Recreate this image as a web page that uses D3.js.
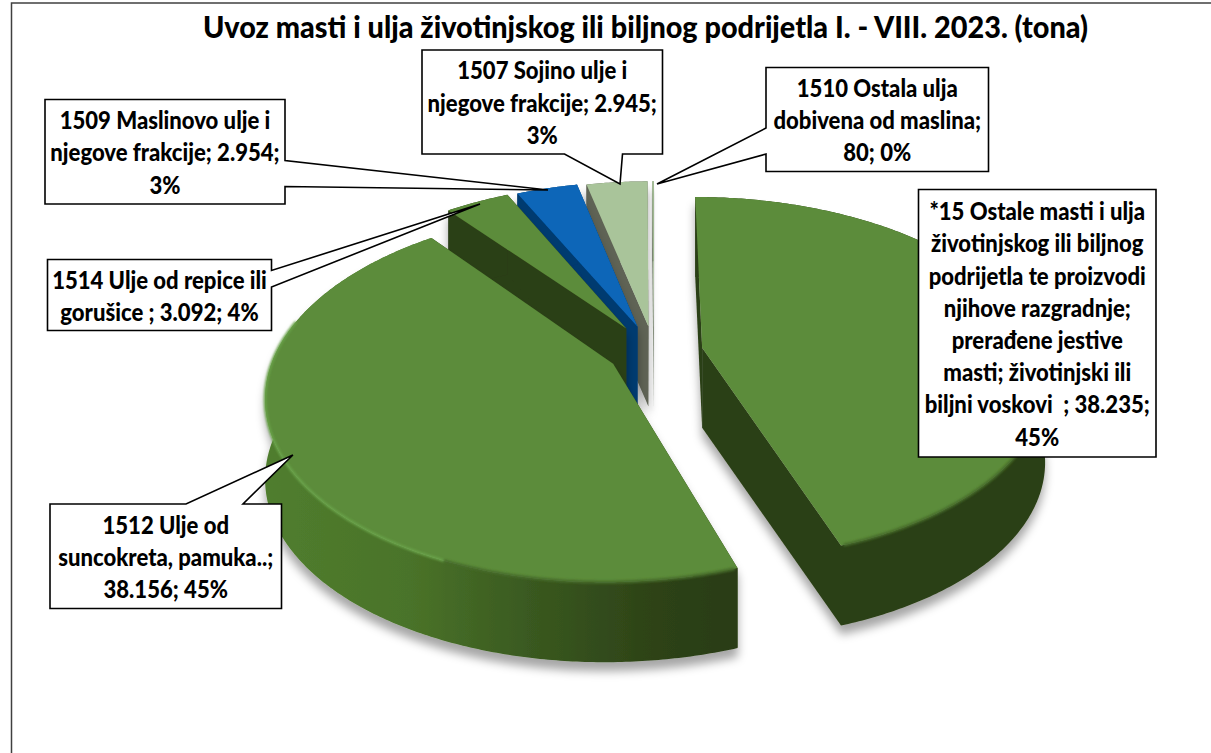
<!DOCTYPE html>
<html>
<head>
<meta charset="utf-8">
<script src="https://cdn.jsdelivr.net/npm/d3@7"></script>
<style>
html, body { margin: 0; padding: 0; background: #fff; }
svg { display: block; }
text { font-family: Lato, sans-serif; font-weight: 900; fill: #000; }
</style>
</head>
<body>
<div id="chart"></div>
<script>
const title = 'Uvoz masti i ulja životinjskog ili biljnog podrijetla I. - VIII. 2023. (tona)';
const categories = ['*15 Ostale masti', '1512 Ulje od suncokreta', '1514 Ulje od repice', '1509 Maslinovo ulje', '1507 Sojino ulje', '1510 Ostala ulja'];
const tons = [38235, 38156, 3092, 2954, 2945, 80];
const labelLines = [
    ['*15 Ostale masti i ulja', 'životinjskog ili biljnog', 'podrijetla te proizvodi', 'njihove razgradnje;', 'prerađene jestive', 'masti; životinjski ili', 'biljni voskovi  ; 38.235;', '45%'],
    ['1512 Ulje od', 'suncokreta, pamuka..;', '38.156; 45%'],
    ['1514 Ulje od repice ili', 'gorušice ; 3.092; 4%'],
    ['1509 Maslinovo ulje i', 'njegove frakcije; 2.954;', '3%'],
    ['1507 Sojino ulje i', 'njegove frakcije; 2.945;', '3%'],
    ['1510 Ostala ulja', 'dobivena od maslina;', '80; 0%']
];

const width = 1211;
const height = 753;
const cx = 654, cy = 352;
const R = 338, tilt = 0.525, persp = 0.168, depth = 80;

// how far each slice is pulled out, and its colours
const explode = [49, 46, 54, 52, 50, 50];
const topColor = ['#5b8c3a', '#5b8c3a', '#5b8c3a', '#0a66b8', '#a9c49a', '#a9c49a'];
const wallColor = ['#2c3f15', '#2c3f15', '#2c3f15', '#003a70', '#5f6355', '#7f8a76'];

// callout boxes: x0, y0, x1, y1 and the pointer (base a, tip, base b)
const boxes = [
    { x0: 918.5, y0: 189.5, x1: 1156, y1: 457, ptr: null },
    { x0: 50, y0: 504, x1: 281.5, y1: 608.5, ptr: [[186, 504], [292.9, 455], [243, 504]], side: 'top' },
    { x0: 47.5, y0: 259.5, x1: 271.5, y1: 330.5, ptr: [[271.5, 270.5], [480, 204], [271.5, 287]], side: 'right' },
    { x0: 45, y0: 99.5, x1: 285, y1: 204, ptr: [[285, 160.5], [548, 190], [285, 186.5]], side: 'right' },
    { x0: 422, y0: 50, x1: 662.5, y1: 154, ptr: [[622.5, 154], [620, 184], [564.5, 154]], side: 'bottom' },
    { x0: 766, y0: 67.5, x1: 988.5, y1: 171.5, ptr: [[766, 154], [657, 184], [766, 128]], side: 'left' }
];

const svg = d3.select('#chart').append('svg')
    .attr('width', width)
    .attr('height', height);

const defs = svg.append('defs');

const shadow = defs.append('filter').attr('id', 'shadow')
    .attr('x', '-20%').attr('y', '-20%').attr('width', '140%').attr('height', '140%');
shadow.append('feDropShadow')
    .attr('dx', 0).attr('dy', 9).attr('stdDeviation', 5)
    .attr('flood-color', '#000').attr('flood-opacity', 0.35);

defs.append('filter').attr('id', 'soft').append('feGaussianBlur').attr('stdDeviation', 1.2);

const rimLeft = defs.append('linearGradient').attr('id', 'rim2')
    .attr('gradientUnits', 'userSpaceOnUse')
    .attr('x1', 270).attr('x2', 735).attr('y1', 0).attr('y2', 0);
rimLeft.append('stop').attr('offset', 0).attr('stop-color', '#507d2e');
rimLeft.append('stop').attr('offset', 0.3).attr('stop-color', '#4a7329');
rimLeft.append('stop').attr('offset', 0.55).attr('stop-color', '#3a5a20');
rimLeft.append('stop').attr('offset', 0.8).attr('stop-color', '#2e4418');
rimLeft.append('stop').attr('offset', 1).attr('stop-color', '#293c14');

const pie = d3.pie().sort(null).value(d => d).startAngle(0).endAngle(2 * Math.PI);
const arcs = pie(tons);

// disc point at angle a (clockwise from the back) to screen, with perspective
function project(a, r, i) {
    const m = (arcs[i].startAngle + arcs[i].endAngle) / 2;
    const wx = r * Math.sin(a) + explode[i] * Math.sin(m);
    const wy = r * Math.cos(a) + explode[i] * Math.cos(m);
    const s = 1 / (1 + persp * wy / R);
    return [cx + wx * s, cy - wy * tilt * s];
}

function arcPoints(i, a0, a1) {
    const n = Math.max(2, Math.ceil((a1 - a0) / 0.01));
    return d3.range(n + 1).map(k => project(a0 + (a1 - a0) * k / n, R, i));
}

const line = d3.line();
const down = p => [p[0], p[1] + depth];

// back slices first, so the front ones paint over them
const order = [5, 4, 3, 2, 1, 0];
const slices = svg.append('g').selectAll('g')
    .data(order)
    .enter()
    .append('g')
    .attr('filter', 'url(#shadow)');

slices.each(function (i) {
    const g = d3.select(this);
    const a0 = arcs[i].startAngle, a1 = arcs[i].endAngle;
    const tip = project(0, 0, i);
    const edge = arcPoints(i, a0, a1);
    const first = edge[0], last = edge[edge.length - 1];

    // cut faces
    [first, last].forEach(p => {
        g.append('path')
            .attr('d', line([tip, down(tip), down(p), p]) + 'Z')
            .attr('fill', wallColor[i]);
    });

    // outer wall
    g.append('path')
        .attr('d', line(edge.concat(edge.map(down).reverse())) + 'Z')
        .attr('fill', i === 1 ? 'url(#rim2)' : wallColor[i]);

    // top
    g.append('path')
        .attr('d', line([tip].concat(edge)) + 'Z')
        .attr('fill', topColor[i]);
});

// bevel along the front edges: light on the left, soft and dark towards the right
const bevel = svg.append('g').attr('fill', 'none').attr('filter', 'url(#soft)').attr('stroke-linecap', 'round');
bevel.append('path')
    .attr('d', line(arcPoints(1, 3.55, 4.95)))
    .attr('stroke', '#69a34a')
    .attr('stroke-width', 2.6);
bevel.append('path')
    .attr('d', line(arcPoints(1, arcs[1].startAngle + 0.01, 3.55)))
    .attr('stroke', '#466c2a')
    .attr('stroke-width', 3);
bevel.append('path')
    .attr('d', line(arcPoints(0, 1.6, arcs[0].endAngle - 0.01)))
    .attr('stroke', '#466c2a')
    .attr('stroke-width', 3);

// callouts
const callouts = svg.append('g').selectAll('g')
    .data(boxes)
    .enter()
    .append('g');

callouts.append('path')
    .attr('d', b => {
        const corners = [[b.x0, b.y0], [b.x1, b.y0], [b.x1, b.y1], [b.x0, b.y1]];
        // walk the box clockwise and put the pointer in on its side
        const insertAt = { top: 1, right: 2, bottom: 3, left: 4 }[b.side];
        const pts = b.ptr ? [...corners.slice(0, insertAt), ...b.ptr, ...corners.slice(insertAt)] : corners;
        return line(pts) + 'Z';
    })
    .attr('fill', '#fff')
    .attr('stroke', '#000')
    .attr('stroke-width', 1.6);

const labelSize = 24, lineGap = 32.2, squeeze = 0.92;

callouts.each(function (b, i) {
    const lines = labelLines[i];
    const mid = (b.y0 + b.y1) / 2;
    const x = (b.x0 + b.x1) / 2;
    d3.select(this).selectAll('text')
        .data(lines)
        .enter()
        .append('text')
        .attr('x', x)
        .attr('y', (d, k) => mid + (k - (lines.length - 1) / 2) * lineGap + labelSize * 0.4)
        .attr('text-anchor', 'middle')
        .attr('font-size', labelSize)
        .attr('xml:space', 'preserve')
        .text(d => d)
        .each(function () {
            this.setAttribute('textLength', this.getComputedTextLength() * squeeze);
            this.setAttribute('lengthAdjust', 'spacingAndGlyphs');
        });
});

// title and chart frame
svg.append('text')
    .attr('x', 645.5)
    .attr('y', 38)
    .attr('text-anchor', 'middle')
    .attr('font-size', 31)
    .attr('textLength', 885)
    .attr('lengthAdjust', 'spacingAndGlyphs')
    .text(title);

svg.append('path')
    .attr('d', `M11.5,${height}V3H${width}`)
    .attr('fill', 'none')
    .attr('stroke', '#404040')
    .attr('stroke-width', 1.5);
</script>
</body>
</html>
